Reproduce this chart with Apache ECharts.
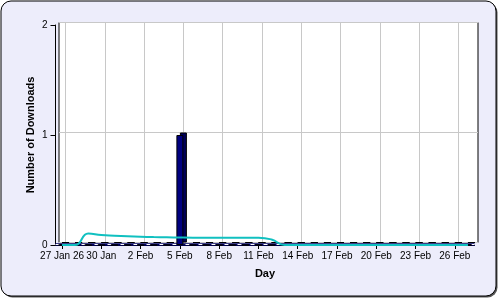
<!DOCTYPE html>
<html>
<head>
<meta charset="utf-8">
<script src="https://cdn.jsdelivr.net/npm/echarts@6/dist/echarts.min.js"></script>
<style>html,body{margin:0;padding:0;background:#fff}#c{width:500px;height:300px}</style>
</head>
<body>
<div id="c"></div>
<script>
var days = ['27 Jan 26','28 Jan','29 Jan','30 Jan','31 Jan','1 Feb','2 Feb','3 Feb','4 Feb','5 Feb','6 Feb','7 Feb','8 Feb','9 Feb','10 Feb','11 Feb','12 Feb','13 Feb','14 Feb','15 Feb','16 Feb','17 Feb','18 Feb','19 Feb','20 Feb','21 Feb','22 Feb','23 Feb','24 Feb','25 Feb','26 Feb','27 Feb'];
var downloads = [0,0,0,0,0,0,0,0,0,1,0,0,0,0,0,0,0,0,0,0,0,0,0,0,0,0,0,0,0,0,0,0];
var trend = [0,0,0.105,0.09,0.084,0.079,0.075,0.072,0.07,0.068,0.067,0.067,0.067,0.067,0.067,0.067,0.05,0,0,0,0,0,0,0,0,0,0,0,0,0,0,0];
var yTicks = [0,1,2];

var chart = echarts.init(document.getElementById('c'), null, {renderer:'canvas'});
var font = 'Liberation Sans, Arial, sans-serif';
chart.setOption({
  animation: false,
  backgroundColor: '#fff',
  graphic: [
    {type:'rect', z:-20, shape:{x:2.5,y:2.5,width:495,height:295,r:10}, style:{fill:'#555'}},
    {type:'rect', z:-19, shape:{x:1,y:1,width:495,height:295,r:10}, style:{fill:'#EDEDFB', stroke:'#000', lineWidth:1}}
  ],
  grid: [
    {left:59, top:22.5, width:419, height:220, show:true, backgroundColor:'#fff', borderColor:'#000', borderWidth:1},
    {left:55.5, top:25, width:419, height:220, show:false}
  ],
  xAxis: [
    {gridIndex:0, type:'category', data:days, boundaryGap:true,
     axisLine:{show:false}, axisTick:{show:false}, axisLabel:{show:false},
     splitLine:{show:true, interval:2, alignWithLabel:true, lineStyle:{color:'#c8c8c8', width:1}}},
    {gridIndex:1, type:'category', data:days, boundaryGap:true,
     axisLine:{show:true, lineStyle:{color:'#000', width:1}},
     axisTick:{show:true, interval:2, alignWithLabel:true, length:4, lineStyle:{color:'#000'}},
     axisLabel:{interval:2, margin:6, color:'#000', fontSize:10, fontFamily:font},
     splitLine:{show:false},
     name:'Day', nameLocation:'middle', nameGap:23,
     nameTextStyle:{fontWeight:'bold', fontSize:11, color:'#000', fontFamily:font}}
  ],
  yAxis: [
    {gridIndex:0, type:'value', min:0, max:2, interval:1,
     axisLine:{show:false}, axisTick:{show:false}, axisLabel:{show:false},
     splitLine:{show:true, lineStyle:{color:'#c8c8c8', width:1}}},
    {gridIndex:1, type:'value', min:0, max:2, interval:1,
     axisLine:{show:true, lineStyle:{color:'#000', width:1}},
     axisTick:{show:true, length:5, lineStyle:{color:'#000'}},
     axisLabel:{margin:8, color:'#000', fontSize:10, fontFamily:font,
       formatter:function(v){return yTicks.indexOf(v) >= 0 ? String(v) : '';}},
     splitLine:{show:false},
     name:'Number of Downloads', nameLocation:'middle', nameGap:19, nameMoveOverlap:false,
     nameTextStyle:{fontWeight:'bold', fontSize:11, color:'#000', fontFamily:font}}
  ],
  series: [
    {type:'bar', xAxisIndex:0, yAxisIndex:0, data:downloads, barWidth:7, z:1,
     itemStyle:{color:'#000058', borderColor:'#000', borderWidth:1}, silent:true},
    {type:'bar', xAxisIndex:1, yAxisIndex:1, data:downloads, barWidth:7, z:6,
     itemStyle:{color:'#000080', borderColor:'#000', borderWidth:1},
     markLine:{silent:true, symbol:'none', label:{show:false}, z:5,
       data:[
         {yAxis:0.015, lineStyle:{color:'#000060', width:2.5, type:'solid'}},
         {yAxis:0.015, lineStyle:{color:'#fff', width:1, type:[4,9]}}
       ]}},
    {type:'line', xAxisIndex:1, yAxisIndex:1, data:trend, smooth:true, symbol:'none', z:7,
     lineStyle:{color:'#10C0C0', width:2}}
  ]
});
</script>
</body>
</html>
